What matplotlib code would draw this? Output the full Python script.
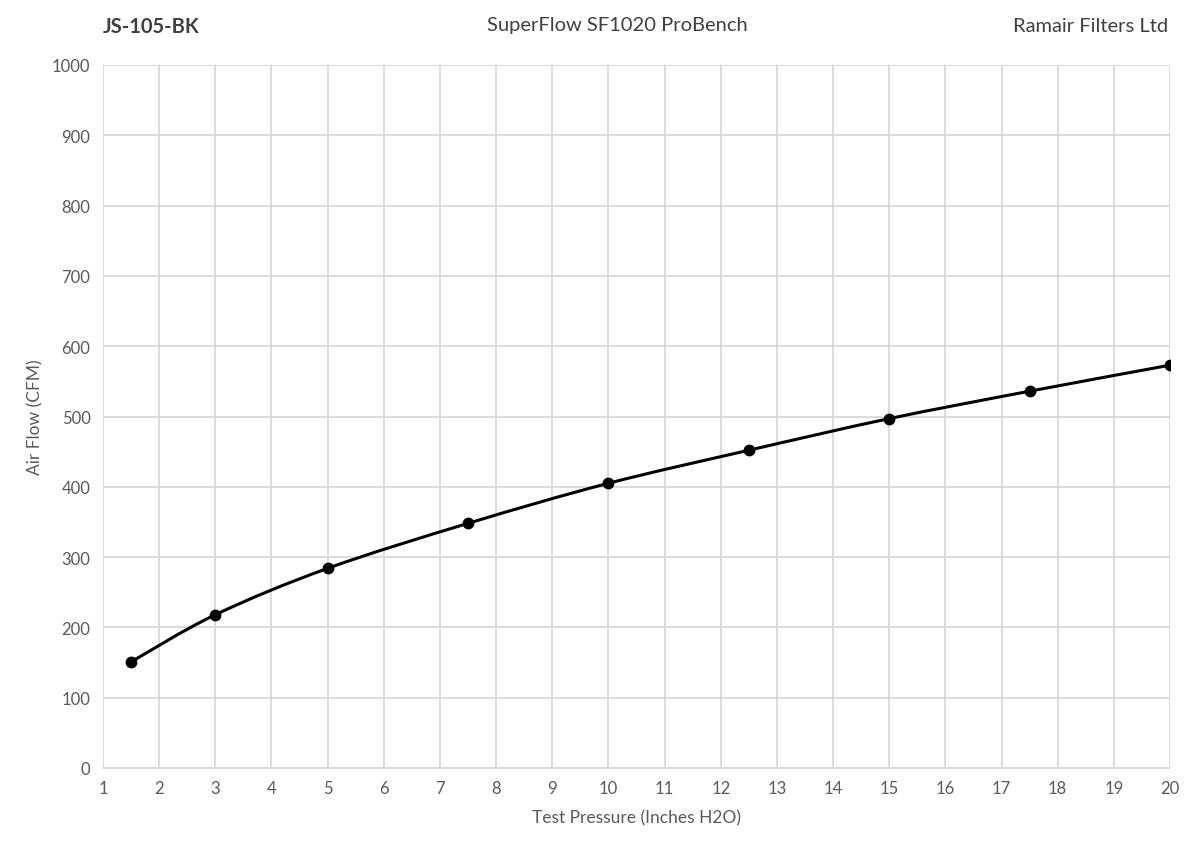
import numpy as np
import matplotlib.pyplot as plt
from matplotlib.path import Path
from matplotlib.patches import PathPatch

plt.rcParams['font.family'] = ['Lato', 'DejaVu Sans']

pressure = [1.5, 3, 5, 7.5, 10, 12.5, 15, 17.5, 20]
airflow = [151, 218, 284, 348, 405, 452, 497, 536, 573]
x_ticks = list(range(1, 21))
y_ticks = list(range(0, 1001, 100))

GRID = "#d9d9d9"
TXT = "#595959"

fig = plt.figure(figsize=(12, 8.54), dpi=100)
ax = fig.add_axes([103 / 1200, 85 / 854, 1067 / 1200, 703 / 854])

ax.set_xlim(1, 20)
ax.set_ylim(0, 1000)
ax.set_xticks(x_ticks)
ax.set_yticks(y_ticks)
ax.grid(True, color=GRID, linewidth=1.3)
ax.set_axisbelow(True)
for s in ax.spines.values():
    s.set_visible(False)
ax.spines['bottom'].set_visible(True)
ax.spines['bottom'].set_color(GRID)
ax.spines['bottom'].set_linewidth(1.3)
ax.tick_params(length=0, labelsize=12, colors=TXT, pad=9)

# smoothed line (Catmull-Rom as cubic Bezier segments)
pts = np.column_stack([pressure, airflow]).astype(float)
verts = [pts[0]]
codes = [Path.MOVETO]
n = len(pts)
for i in range(n - 1):
    p0 = pts[i - 1] if i > 0 else pts[i]
    p1, p2 = pts[i], pts[i + 1]
    p3 = pts[i + 2] if i + 2 < n else pts[i + 1]
    c1 = p1 + (p2 - p0) / 6
    c2 = p2 - (p3 - p1) / 6
    verts += [c1, c2, p2]
    codes += [Path.CURVE4] * 3
ax.add_patch(PathPatch(Path(verts, codes), fill=False, edgecolor="black", linewidth=2.2, zorder=3))
ax.plot(pressure, airflow, linestyle="none", marker="o", markersize=7.5, color="black", zorder=4)

ax.set_xlabel("Test Pressure (Inches H2O)", fontsize=12.5, color=TXT, labelpad=9)
ax.set_ylabel("Air Flow (CFM)", fontsize=12.5, color=TXT, labelpad=6)

fig.text(103 / 1200, 1 - 27 / 854, "JS-105-BK", fontsize=14.5, fontweight="bold", color="#404040", va="center", ha="left")
fig.text(617 / 1200, 1 - 26 / 854, "SuperFlow SF1020 ProBench", fontsize=14.5, color="#404040", va="center", ha="center")
fig.text(1168 / 1200, 1 - 26 / 854, "Ramair Filters Ltd", fontsize=14.5, color="#404040", va="center", ha="right")

fig.savefig("out.png", dpi=100)
